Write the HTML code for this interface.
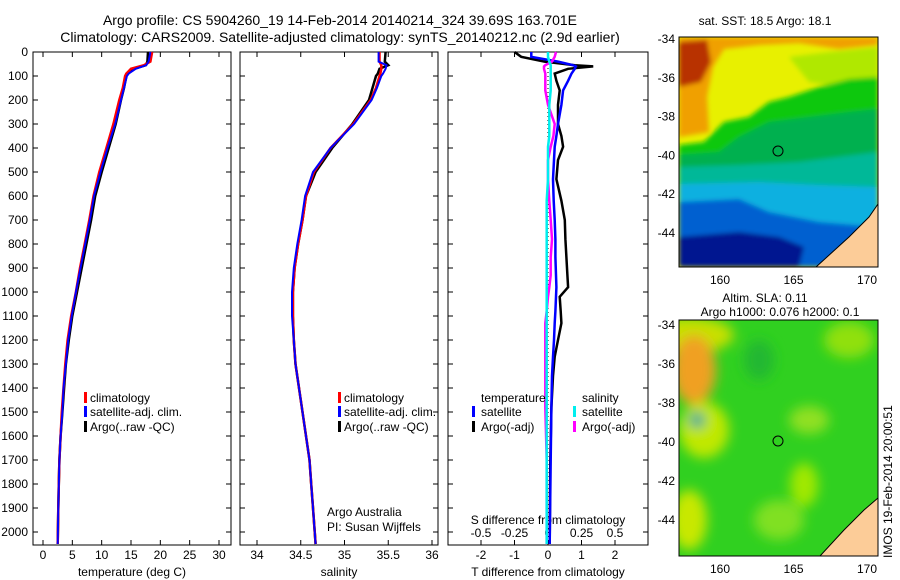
<!DOCTYPE html>
<html><head><meta charset="utf-8">
<style>
html,body{margin:0;padding:0;background:#fff;}
svg{display:block;font-family:"Liberation Sans",sans-serif;}
</style></head>
<body>
<svg id="fig" width="900" height="580" viewBox="0 0 900 580">
<defs>
<filter id="bl" x="-20%" y="-20%" width="140%" height="140%"><feGaussianBlur stdDeviation="2.5"/></filter>
<filter id="bl2" x="-20%" y="-20%" width="140%" height="140%"><feGaussianBlur stdDeviation="6"/></filter>
<clipPath id="c1"><rect x="0" y="0" width="199" height="230"/></clipPath>
<clipPath id="c2"><rect x="0" y="0" width="199" height="236"/></clipPath>
</defs>
<g font-size="14" fill="#000">
<text x="340" y="25" text-anchor="middle">Argo profile: CS 5904260_19 14-Feb-2014 20140214_324 39.69S 163.701E</text>
<text x="340" y="42" text-anchor="middle">Climatology: CARS2009. Satellite-adjusted climatology: synTS_20140212.nc (2.9d earlier)</text>
</g>
<g id="plots"></g>

<!-- Map 1: SST -->
<text x="765" y="25" font-size="12" text-anchor="middle">sat. SST: 18.5 Argo: 18.1</text>
<g transform="translate(679,37)">
<g clip-path="url(#c1)">
<rect width="199" height="230" fill="#e8f000"/>
<g filter="url(#bl)">
<polygon points="0,0 199,0 199,8 160,12 120,6 80,8 45,12 34,30 28,60 30,95 0,100" fill="#f0a000"/>
<polygon points="0,5 28,3 32,25 22,45 0,50" fill="#b83000"/>
<polygon points="110,20 150,15 199,10 199,45 160,50 130,45" fill="#b0e800"/>
<polygon points="0,108 25,105 35,95 45,85 70,80 90,65 110,60 140,50 170,42 199,40 199,230 0,230" fill="#10c810"/>
<polygon points="0,118 40,115 60,100 90,85 130,80 170,75 199,72 199,230 0,230" fill="#00b050"/>
<polygon points="0,130 60,128 120,125 199,115 199,230 0,230" fill="#00b898"/>
<polygon points="0,147 80,145 140,148 199,150 199,230 0,230" fill="#10b0e0"/>
<polygon points="0,165 60,162 90,175 140,185 199,190 199,230 0,230" fill="#0060d0"/>
<polygon points="0,200 60,195 100,200 125,210 120,230 0,230" fill="#001890"/>
</g>
<polygon points="199,167 190,180 170,200 137,230 199,230" fill="#fccc98" stroke="#000" stroke-width="1"/>
<circle cx="99" cy="114" r="5" fill="none" stroke="#000" stroke-width="1"/>
</g>
<rect width="199" height="230" fill="none" stroke="#000"/>
</g>

<!-- Map 2: SLA -->
<text x="765" y="302" font-size="12" text-anchor="middle">Altim. SLA: 0.11</text>
<text x="780" y="316" font-size="12" text-anchor="middle">Argo h1000: 0.076 h2000: 0.1</text>
<g transform="translate(679,320)">
<g clip-path="url(#c2)">
<rect width="199" height="236" fill="#30d020"/>
<g filter="url(#bl2)">
<ellipse cx="10" cy="15" rx="45" ry="18" fill="#c8e000"/>
<ellipse cx="15" cy="50" rx="22" ry="35" fill="#f0a020"/>
<ellipse cx="25" cy="110" rx="25" ry="28" fill="#c0e800"/>
<ellipse cx="18" cy="100" rx="8" ry="8" fill="#20a0a0"/>
<ellipse cx="130" cy="100" rx="20" ry="14" fill="#90e020"/>
<ellipse cx="125" cy="165" rx="14" ry="22" fill="#a0e800"/>
<ellipse cx="10" cy="200" rx="18" ry="30" fill="#c8e800"/>
<ellipse cx="170" cy="20" rx="25" ry="18" fill="#90e010"/>
<ellipse cx="80" cy="40" rx="15" ry="20" fill="#20b830"/>
<ellipse cx="100" cy="200" rx="25" ry="20" fill="#80e020"/>
</g>
<polygon points="199,178 185,190 165,210 141,236 199,236" fill="#fccc98" stroke="#000" stroke-width="1"/>
<circle cx="99" cy="121" r="5" fill="none" stroke="#000" stroke-width="1"/>
</g>
<rect width="199" height="236" fill="none" stroke="#000"/>
</g>
<text transform="translate(892,558) rotate(-90)" font-size="12">IMOS 19-Feb-2014 20:00:51</text>
</svg>

<script>
// Profile data (depth in dbar)
var depths = [0,40,55,70,90,100,150,200,300,400,500,600,700,800,900,1000,1100,1200,1300,1400,1500,1600,1700,1800,1900,2050];
var tempClim = [18.6,18.3,17.2,15.0,14.2,14.0,13.6,13.0,12.0,10.8,9.6,8.6,7.9,7.1,6.3,5.6,4.8,4.2,3.8,3.5,3.2,3.0,2.8,2.7,2.6,2.5];
var tempSat  = [18.3,18.0,17.6,15.8,14.6,14.3,13.8,13.3,12.3,11.0,9.8,8.7,8.0,7.2,6.4,5.6,4.9,4.3,3.9,3.5,3.3,3.0,2.8,2.7,2.6,2.5];
var tempArgo = [17.9,17.8,17.5,15.5,14.4,14.2,13.8,13.3,12.4,11.2,10.0,8.9,8.2,7.4,6.6,5.8,5.0,4.4,3.9,3.6,3.3,3.0,2.8,2.7,2.6,2.5];
var salClim = [35.40,35.40,35.42,35.42,35.41,35.40,35.36,35.30,35.10,34.84,34.65,34.56,34.52,34.47,34.43,34.41,34.41,34.42,34.44,34.48,34.52,34.56,34.60,34.62,34.64,34.67];
var salSat  = [35.39,35.39,35.48,35.47,35.44,35.42,35.37,35.31,35.11,34.84,34.64,34.55,34.51,34.46,34.42,34.40,34.40,34.42,34.44,34.48,34.52,34.56,34.60,34.62,34.64,34.67];
var salArgo = [35.47,35.46,35.50,35.40,35.38,35.36,35.32,35.28,35.09,34.86,34.67,34.56,34.52,34.47,34.43,34.41,34.41,34.42,34.44,34.48,34.52,34.56,34.60,34.62,34.64,34.67];
// Difference panel data
var dDepths   = [0,20,40,55,60,70,90,120,160,220,300,350,395,450,530,620,700,780,855,930,980,1020,1080,1130,1200,1270,1350,1480,1700,2050];
var dTempSat  = [-0.5,-0.5,0.3,0.75,0.83,0.8,0.7,0.6,0.45,0.4,0.3,0.25,0.2,0.18,0.15,0.17,0.2,0.22,0.22,0.24,0.25,0.24,0.22,0.2,0.18,0.15,0.12,0.1,0.08,0.05];
var dTempArgo = [-1.0,-0.8,-0.1,0.8,1.35,0.6,0.2,0.25,0.35,0.3,0.3,0.4,0.45,0.3,0.25,0.4,0.5,0.52,0.55,0.58,0.6,0.35,0.38,0.4,0.3,0.2,0.15,0.1,0.07,0.05];
var dSalSat   = [0,0,0.01,0.02,0.02,0.02,0.02,0.02,0.02,0.01,0.01,0.01,0,0,0,-0.01,-0.01,-0.01,-0.01,-0.01,-0.01,-0.01,-0.01,-0.01,-0.01,-0.01,-0.01,-0.01,-0.01,-0.01];
var dSalArgo  = [0.06,0.05,0.03,-0.02,-0.03,-0.03,-0.02,-0.02,-0.02,0.0,0.05,0.04,0.02,0.0,0.0,0.01,0.02,0.03,0.02,0.02,0.01,0.0,-0.01,-0.02,-0.02,-0.02,-0.02,-0.02,-0.01,-0.01];
var depthTicks = [0,100,200,300,400,500,600,700,800,900,1000,1100,1200,1300,1400,1500,1600,1700,1800,1900,2000];
var tempTicks = [0,5,10,15,20,25,30];
var salTicks = [34,34.5,35,35.5,36];
var dTTicks = [-2,-1,0,1,2];
var dSTicks = [-0.5,-0.25,0,0.25,0.5];
var latTicks = [-34,-36,-38,-40,-42,-44];
var lonTicks = [160,165,170];

var NS='http://www.w3.org/2000/svg';
var plots=document.getElementById('plots');
function el(tag,attrs,parent){var e=document.createElementNS(NS,tag);for(var k in attrs)e.setAttribute(k,attrs[k]);(parent||plots).appendChild(e);return e;}
var top0=52,bot=545;
function yD(d){return top0+d*0.24;}
function lin(d0,d1,r0,r1){return function(v){return r0+(v-d0)/(d1-d0)*(r1-r0);};}

function panel(x0,x1,name){
  var g=el('g',{});
  
  
  var r=el('rect',{x:x0,y:top0,width:x1-x0,height:bot-top0,fill:'#fff',stroke:'#000','stroke-width':1},g);
  
  
  depthTicks.forEach(function(d){var y=yD(d);
    el('line',{x1:x0,x2:x0+5,y1:y,y2:y,stroke:'#000'},g);
    el('line',{x1:x1-5,x2:x1,y1:y,y2:y,stroke:'#000'},g);});
  return g;
}
function line(g,ds,xs,f,color,w,name){
  var pts=ds.map(function(d,i){return f(xs[i]).toFixed(1)+','+yD(d).toFixed(1);}).join(' ');
  var p=el('polyline',{points:pts,fill:'none',stroke:color,'stroke-width':w},g);
  
  
}
function xticks(g,ticks,f,y,labelY,fs){
  ticks.forEach(function(t){var x=f(t);
    el('line',{x1:x,x2:x,y1:bot,y2:bot-5,stroke:'#000'},g);
    el('line',{x1:x,x2:x,y1:top0,y2:top0+5,stroke:'#000'},g);
    var tx=el('text',{x:x,y:labelY,'font-size':fs||12,'text-anchor':'middle'},g);tx.textContent=String(t);
    
    });
}
function label(g,x,y,s,name,anchor){var t=el('text',{x:x,y:y,'font-size':12,'text-anchor':anchor||'start'},g);t.textContent=s;
  
  return t;}
function legSwatch(g,x,y,c){el('rect',{x:x,y:y-10,width:3,height:11,fill:c},g);}

// Panel 1 temperature
var g1=panel(33,231,'temperature-panel');
var fT=lin(0,30,43,219);
depthTicks.forEach(function(d){var t=el('text',{x:28,y:yD(d)+4,'font-size':12,'text-anchor':'end'},g1);t.textContent=String(d);
  
  });
xticks(g1,tempTicks,fT,bot,559);
label(g1,132,576,'temperature (deg C)','x-axis-title-temperature','middle');
line(g1,depths,tempArgo,fT,'#000',2.5,'temp-argo-line');
line(g1,depths,tempClim,fT,'#f00',2.5,'temp-clim-line');
line(g1,depths,tempSat,fT,'#00f',2,'temp-sat-line');
legSwatch(g1,84,402,'#f00');label(g1,90,402,'climatology','legend-climatology');
legSwatch(g1,84,416,'#00f');label(g1,90,416,'satellite-adj. clim.','legend-satellite');
legSwatch(g1,84,431,'#000');label(g1,90,431,'Argo(..raw -QC)','legend-argo');

// Panel 2 salinity
var g2=panel(240,438,'salinity-panel');
var fS=lin(34,36,257,432);
xticks(g2,salTicks,fS,bot,559);
label(g2,339,576,'salinity','x-axis-title-salinity','middle');
line(g2,depths,salArgo,fS,'#000',2.5,'sal-argo-line');
line(g2,depths,salClim,fS,'#f00',2.5,'sal-clim-line');
line(g2,depths,salSat,fS,'#00f',2,'sal-sat-line');
legSwatch(g2,338,402,'#f00');label(g2,344,402,'climatology','legend-climatology-2');
legSwatch(g2,338,416,'#00f');label(g2,344,416,'satellite-adj. clim.','legend-satellite-2');
legSwatch(g2,338,431,'#000');label(g2,344,431,'Argo(..raw -QC)','legend-argo-2');
label(g2,327,516,'Argo Australia','argo-australia-label');
label(g2,327,531,'PI: Susan Wijffels','pi-label');

// Panel 3 differences
var g3=panel(448,648,'difference-panel');
var fdT=lin(-2,2,481,615);
var fdS=lin(-0.5,0.5,481,615);
xticks(g3,dTTicks,fdT,bot,559);
dSTicks.forEach(function(t){var t2=el('text',{x:fdS(t),y:537,'font-size':12,'text-anchor':'middle'},g3);t2.textContent=String(t);
  
  });
label(g3,548,524,'S difference from climatology','s-axis-title','middle');
label(g3,548,576,'T difference from climatology','t-axis-title','middle');
el('line',{x1:fdT(0),x2:fdT(0),y1:top0,y2:bot,stroke:'#000','stroke-dasharray':'1,3'},g3);
line(g3,dDepths,dTempArgo,fdT,'#000',2.5,'dtemp-argo-line');
line(g3,dDepths,dTempSat,fdT,'#00f',2.5,'dtemp-sat-line');
line(g3,dDepths,dSalArgo,fdS,'#f0f',2.5,'dsal-argo-line');
line(g3,dDepths,dSalSat,fdS,'#0ee',2.5,'dsal-sat-line');
label(g3,481,402,'temperature','legend-temperature-header');
legSwatch(g3,472,416,'#00f');label(g3,481,416,'satellite','legend-temp-satellite');
legSwatch(g3,472,431,'#000');label(g3,481,431,'Argo(-adj)','legend-temp-argo');
label(g3,582,402,'salinity','legend-salinity-header');
legSwatch(g3,573,416,'#0ee');label(g3,582,416,'satellite','legend-sal-satellite');
legSwatch(g3,573,431,'#f0f');label(g3,582,431,'Argo(-adj)','legend-sal-argo');

// Map axes
function mapAxes(ox,oy,h,latY0,latStep){
  var g=el('g',{});
  
  
  latTicks.forEach(function(l){var y=oy+latY0+(-34-l)*latStep;
    el('line',{x1:ox,x2:ox+4,y1:y,y2:y,stroke:'#000'},g);
    el('line',{x1:ox+195,x2:ox+199,y1:y,y2:y,stroke:'#000'},g);
    var t=el('text',{x:ox-4,y:y+4,'font-size':12,'text-anchor':'end'},g);t.textContent=String(l);
    
    });
  var fL=lin(160,170,ox+41,ox+188);
  lonTicks.forEach(function(l){var x=fL(l);
    el('line',{x1:x,x2:x,y1:oy+h,y2:oy+h-4,stroke:'#000'},g);
    el('line',{x1:x,x2:x,y1:oy,y2:oy+4,stroke:'#000'},g);
    var t=el('text',{x:x,y:oy+h+17,'font-size':12,'text-anchor':'middle'},g);t.textContent=String(l);
    
    });
}
mapAxes(679,37,230,2,19.4);
mapAxes(679,320,236,5,19.5);
</script>
</body></html>
